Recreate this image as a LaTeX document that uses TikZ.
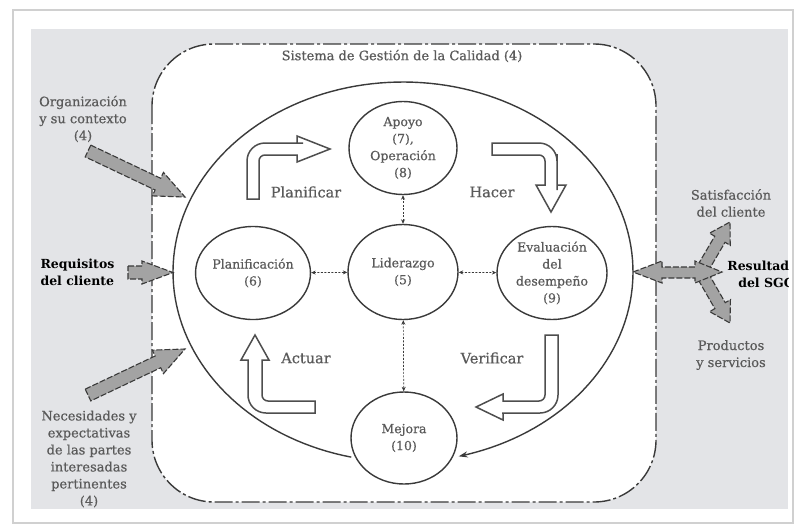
\documentclass[tikz,border=0pt]{standalone}
\usepackage{fontspec}
\setmainfont{DejaVu Serif}
\newfontfamily\semifont[FakeBold=0.6]{DejaVu Serif}
\usetikzlibrary{shapes.geometric,arrows.meta,calc}
\definecolor{bggray}{HTML}{E3E4E7}
\definecolor{linegray}{HTML}{3A3A3A}
\definecolor{textgray}{HTML}{5A5A5A}
\definecolor{arrowgray}{HTML}{A3A3A3}
\definecolor{framegray}{HTML}{D0D0D0}
\newcommand{\grayarrow}[5]{%
  \coordinate (gh) at ($(#2)!#5!(#1)$);
  \draw[garrow] ($(#1)!#3!90:(#2)$) -- ($(gh)!#3!-90:(#1)$) -- ($(gh)!#4!-90:(#1)$) -- (#2)
    -- ($(gh)!#4!90:(#1)$) -- ($(gh)!#3!90:(#1)$) -- ($(#1)!#3!-90:(#2)$) -- cycle;}
\begin{document}
\begin{tikzpicture}[x=1pt,y=-1pt,
  circ/.style={ellipse, draw=linegray, line width=1.4pt, fill=white, text=textgray,
    align=center, font=\semifont\fontsize{12.5}{17}\selectfont, inner sep=0pt},
  link/.style={draw=linegray, line width=0.7pt, dash pattern=on 2pt off 1.5pt,
    {Stealth[length=4.5pt,width=4pt]}-{Stealth[length=4.5pt,width=4pt]}},
  blockarrow/.style={draw=linegray!90, line width=1.5pt, fill=white, line join=miter},
  garrow/.style={draw=linegray, fill=arrowgray, line width=1.1pt, dash pattern=on 6pt off 2pt},
  sgc/.style={draw=linegray, line width=1.4pt, fill=white, rounded corners=62pt,
    dash pattern=on 18pt off 3pt on 3pt off 3pt},
  cyc/.style={draw=linegray, line width=1.4pt, -{Stealth[length=9pt,width=6pt]}},
  lbl/.style={text=textgray, align=center, font=\semifont\fontsize{13}{17}\selectfont},
  blbl/.style={text=black, align=center, font=\bfseries\fontsize{12.5}{17}\selectfont},
  phva/.style={text=textgray, font=\semifont\fontsize{14.5}{17}\selectfont}]
\useasboundingbox (0,0) rectangle (794,525);
\draw[framegray, line width=1.5pt] (13,10) rectangle (793,523);
\begin{scope}
\clip (31,29) rectangle (788,509);
\fill[bggray] (31,29) rectangle (788,509);
% quality management system boundary
\draw[sgc] (152,44) rectangle (656,502);
\node[lbl] (title) at (402,56) {Sistema de Gestión de la Calidad (4)};
% PDCA cycle
\draw[cyc] plot[domain=103:436, samples=160, variable=\t] ({403+230*cos(\t)}, {272+190*sin(\t)});
% block arrows
\draw[blockarrow] (247,199) -- (247,180) {[rounded corners=18pt] -- (247,143) -- (285,143)} -- (297,143) -- (297,136) -- (330,149) -- (297,162) -- (297,155) -- (285,155) {[rounded corners=6pt] -- (259,155) -- (259,175)} -- (259,199) -- cycle;
\draw[blockarrow] (492,143) -- (510,143) {[rounded corners=18pt] -- (557,143) -- (557,172)} -- (557,185) -- (566,185) -- (551,212) -- (536,185) -- (545,185) -- (545,172) {[rounded corners=6pt] -- (545,155) -- (515,155)} -- (492,155) -- cycle;
\draw[blockarrow] (545,335) -- (558,335) -- (558,360) {[rounded corners=18pt] -- (558,413) -- (520,413)} -- (503,413) -- (503,420) -- (476,407) -- (503,394) -- (503,401) -- (520,401) {[rounded corners=6pt] -- (545,401) -- (545,375)} -- cycle;
\draw[blockarrow] (315,413) -- (290,413) {[rounded corners=18pt] -- (248,413) -- (248,380)} -- (248,360) -- (241,360) -- (255,335) -- (269,360) -- (262,360) -- (262,380) {[rounded corners=6pt] -- (262,401) -- (290,401)} -- (315,401) -- cycle;
\node[phva] (planificar) at (306,192) {Planificar};
\node[phva] (hacer) at (492,192) {Hacer};
\node[phva] (actuar) at (306,358) {Actuar};
\node[phva] (verificar) at (492,358) {Verificar};
% process circles
\node[circ, minimum width=108pt, minimum height=93pt] (apoyo) at (403,148) {Apoyo\\(7),\\Operación\\(8)};
\node[circ, minimum width=110pt, minimum height=95pt] (lid) at (403,272) {Liderazgo\\(5)};
\node[circ, minimum width=108pt, minimum height=93pt] (plan) at (253,273) {Planificación\\(6)};
\node[circ, minimum width=110pt, minimum height=93pt] (eval) at (552,273) {Evaluación\\del\\desempeño\\(9)};
\node[circ, minimum width=106pt, minimum height=92pt] (mejora) at (404,438) {Mejora\\(10)};
\draw[link] (apoyo) -- (lid);
\draw[link] (plan) -- (lid);
\draw[link] (lid) -- (eval);
\draw[link] (lid) -- (mejora);
% inputs
\node[lbl] (org) at (83,119) {Organización\\y su contexto\\(4)};
\node[blbl, align=left, anchor=west] (req) at (37,272) {Requisitos\\del cliente};
\node[lbl] (nec) at (89,459) {Necesidades y\\expectativas\\de las partes\\interesadas\\pertinentes\\(4)};
\coordinate (orgS) at (88,151); \coordinate (orgE) at (185,197);
\coordinate (reqS) at (128,272.5); \coordinate (reqE) at (173,272.5);
\coordinate (necS) at (88,395); \coordinate (necE) at (185,349);
\grayarrow{orgS}{orgE}{6.5pt}{13pt}{30pt}
\grayarrow{reqS}{reqE}{6.5pt}{11.5pt}{31pt}
\grayarrow{necS}{necE}{6.5pt}{13pt}{30pt}
% outputs
\coordinate (upS) at (703,268); \coordinate (upE) at (730,222);
\coordinate (dnS) at (703,276); \coordinate (dnE) at (730,323);
\grayarrow{upS}{upE}{6pt}{12pt}{20pt}
\grayarrow{dnS}{dnE}{6pt}{12pt}{20pt}
\draw[garrow] (633,272) -- (662,261) -- (662,267) -- (695,267) -- (695,261) -- (722,272) -- (695,283) -- (695,278) -- (662,278) -- (662,283) -- cycle;
\node[lbl] (sat) at (731,203) {Satisfacción\\del cliente};
\node[blbl] (res) at (766,274) {Resultados\\del SGC};
\node[lbl] (prod) at (731,355) {Productos\\y servicios};
\end{scope}
\end{tikzpicture}
\end{document}
